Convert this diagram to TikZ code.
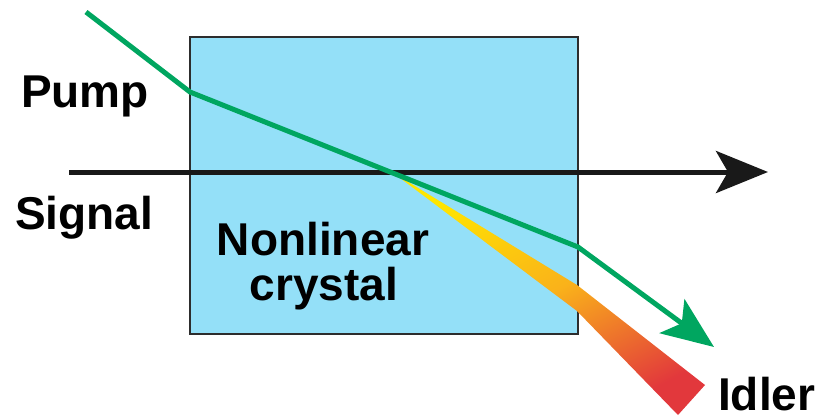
\documentclass[tikz,border=0pt]{standalone}
\usepackage{fontspec}
\setmainfont{Liberation Sans}
\usetikzlibrary{arrows.meta}
\definecolor{crystalblue}{RGB}{148,224,248}
\definecolor{pumpgreen}{RGB}{0,166,96}
\definecolor{idleryellow}{RGB}{255,230,0}
\definecolor{idlerorange}{RGB}{250,178,26}
\definecolor{idlerred}{RGB}{226,56,60}
\definecolor{framegray}{RGB}{45,45,45}
\tikzset{
  beam/.style={line width=5pt,line join=round},
  bigtip/.style={-{Stealth[length=52pt,width=42pt,inset=12pt]}},
  crys/.style={fill=crystalblue,draw=framegray,line width=2.5pt},
  lab/.style={font=\fontsize{46}{46}\selectfont\bfseries,inner sep=0pt},
  every picture/.style={x=1pt,y=-1pt}
}

\begin{document}
\begin{tikzpicture}
  \useasboundingbox (0,0) rectangle (821,418);
  \draw[crys] (190,37) rectangle (578,334);
  % idler cone, bent where it leaves the crystal
  \coordinate (apex) at (392,172); \coordinate (iup) at (577,285); \coordinate (iupend) at (705,385);
  \coordinate (ilo) at (577,311); \coordinate (iloend) at (678,415);
  \shade[top color=idleryellow,bottom color=idlerred,middle color=idlerorange,shading angle=28]
    (apex) -- (iup) -- (iupend) -- (iloend) -- (ilo) -- cycle;
  % signal
  \coordinate (sigin) at (69,172); \coordinate (sigout) at (768,172);
  \draw[beam,bigtip,black!90] (sigin) -- (sigout);
  % pump
  \coordinate (pin) at (86,12); \coordinate (pentry) at (190,92); \coordinate (pexit) at (578,247); \coordinate (pout) at (714,347);
  \draw[beam,bigtip,pumpgreen] (pin) -- (pentry) -- (pexit) -- (pout);
  \node[lab,anchor=base west] (pump) at (21,107) {Pump};
  \node[lab,anchor=base west] (signal) at (15,229) {Signal};
  \node[lab,anchor=base] (nonlin) at (323,255) {Nonlinear}; \node[lab,anchor=base] (crystal) at (324,300) {crystal};
  \node[lab,anchor=base west] (idler) at (718,410) {Idler};
\end{tikzpicture}
\end{document}
